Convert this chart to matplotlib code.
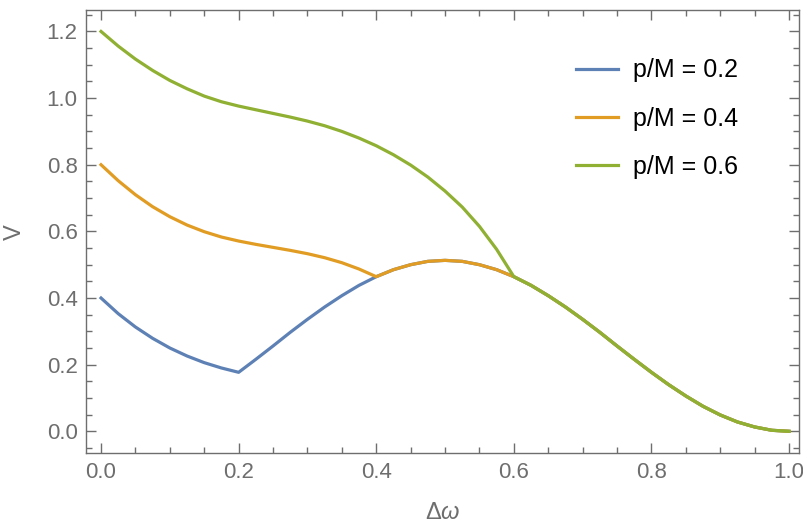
import numpy as np
import matplotlib.pyplot as plt
from matplotlib.ticker import MultipleLocator

# values
dw = np.round(np.arange(0, 1.0001, 0.025), 3)

v_02 = [0.400, 0.353, 0.313, 0.279, 0.250, 0.226, 0.206, 0.190, 0.177,
        0.216, 0.256, 0.297, 0.336, 0.373, 0.407, 0.438, 0.464,
        0.485, 0.500, 0.510, 0.513, 0.510, 0.500, 0.485, 0.464,
        0.438, 0.407, 0.373, 0.336, 0.297, 0.256, 0.216, 0.177,
        0.140, 0.106, 0.075, 0.049, 0.028, 0.013, 0.003, 0.000]

v_04 = [0.800, 0.752, 0.710, 0.674, 0.644, 0.619, 0.599, 0.583, 0.571,
        0.561, 0.552, 0.543, 0.533, 0.521, 0.506, 0.487, 0.464,
        0.485, 0.500, 0.510, 0.513, 0.510, 0.500, 0.485, 0.464,
        0.438, 0.407, 0.373, 0.336, 0.297, 0.256, 0.216, 0.177,
        0.140, 0.106, 0.075, 0.049, 0.028, 0.013, 0.003, 0.000]

v_06 = [1.200, 1.156, 1.117, 1.083, 1.053, 1.028, 1.006, 0.989, 0.976,
        0.965, 0.954, 0.943, 0.931, 0.917, 0.900, 0.880, 0.857,
        0.830, 0.799, 0.763, 0.721, 0.673, 0.615, 0.546, 0.464,
        0.438, 0.407, 0.373, 0.336, 0.297, 0.256, 0.216, 0.177,
        0.140, 0.106, 0.075, 0.049, 0.028, 0.013, 0.003, 0.000]

labels = ["p/M = 0.2", "p/M = 0.4", "p/M = 0.6"]
colors = ["#5E81B5", "#E19C24", "#8FB032"]

plt.rcParams['font.family'] = ['Liberation Sans', 'DejaVu Sans']
plt.rcParams['mathtext.fontset'] = 'custom'
plt.rcParams['mathtext.rm'] = 'Liberation Sans'
plt.rcParams['mathtext.it'] = 'Liberation Sans:italic'

fig = plt.figure(figsize=(8.04, 5.23), dpi=100)
ax = fig.add_axes([0.107, 0.1333, 0.8868, 0.8467])

for v, lab, c in zip([v_02, v_04, v_06], labels, colors):
    ax.plot(dw, v, color=c, lw=2.3, label=lab, solid_joinstyle='round')

ax.set_xlim(-0.0218, 1.0145)
ax.set_ylim(-0.066, 1.263)

ax.xaxis.set_major_locator(MultipleLocator(0.2))
ax.xaxis.set_minor_locator(MultipleLocator(0.05))
ax.yaxis.set_major_locator(MultipleLocator(0.2))
ax.yaxis.set_minor_locator(MultipleLocator(0.05))
ax.xaxis.set_major_formatter(lambda x, pos: f"{x:.1f}")
ax.yaxis.set_major_formatter(lambda x, pos: f"{x:.1f}")

gray = "#6e6e6e"
ax.tick_params(which='both', direction='in', top=True, right=True,
               color=gray, width=1.0, labelsize=16, labelcolor=gray)
ax.tick_params(which='major', length=7, pad=6)
ax.tick_params(which='minor', length=4)
for s in ax.spines.values():
    s.set_color(gray)
    s.set_linewidth(1.0)

ax.set_xlabel(r"$\mathrm{\Delta}\omega$", fontsize=17, color=gray)
ax.set_ylabel("V", fontsize=17, color=gray)
ax.xaxis.set_label_coords(0.5, -0.111)
ax.yaxis.set_label_coords(-0.084, 0.5)

leg = ax.legend(loc='upper left', bbox_to_anchor=(575.7 / 804, 1 - 58.5 / 523),
                bbox_transform=fig.transFigure, frameon=False, fontsize=18,
                handlelength=1.7, handletextpad=0.59, labelspacing=0.97,
                borderpad=0, borderaxespad=0)

plt.savefig("out.png", dpi=100)
